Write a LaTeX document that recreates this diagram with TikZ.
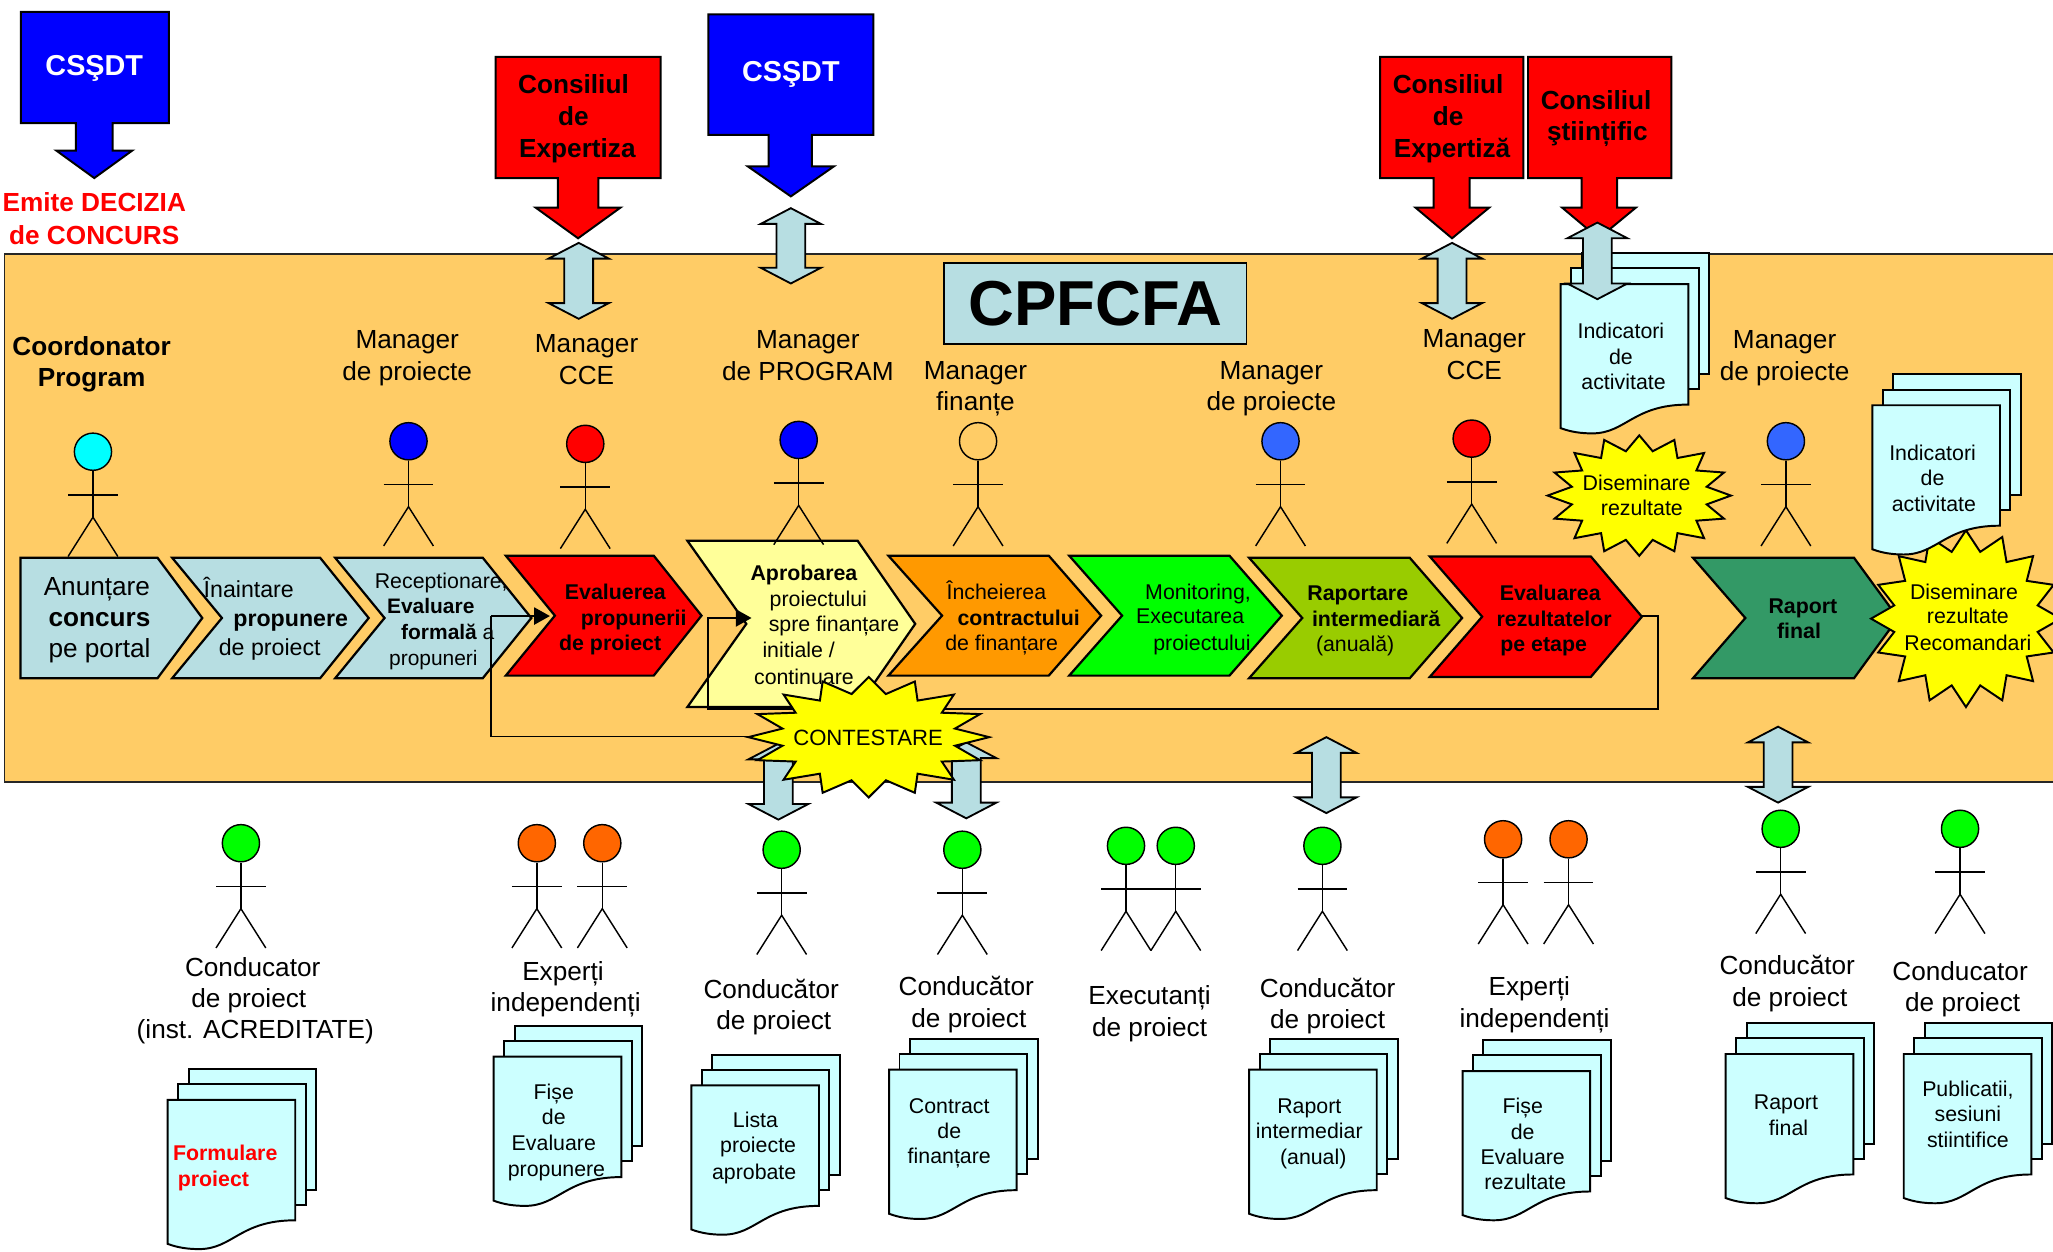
\documentclass[tikz,border=0pt]{standalone}
\usepackage{fontspec}
\setmainfont{Liberation Sans}
\usetikzlibrary{arrows.meta}
\definecolor{bgo}{HTML}{FFCC66}
\definecolor{pale}{HTML}{B7DEE2}
\definecolor{docc}{HTML}{CCFFFF}
\definecolor{lyel}{HTML}{FFFF99}
\definecolor{oran}{HTML}{FF9900}
\definecolor{oliv}{HTML}{99CC00}
\definecolor{dgreen}{HTML}{339966}
\definecolor{mblue}{HTML}{3366FF}
\definecolor{hdor}{HTML}{FF6600}
\definecolor{pcyan}{HTML}{00FFFF}
\definecolor{pyel}{HTML}{FFFF00}
\definecolor{pred}{HTML}{FF0000}
\definecolor{pgreen}{HTML}{00FF00}
\definecolor{pblue}{HTML}{0000FF}
\newcounter{tc}
\tikzset{
  lbl/.style={inner sep=0pt,text height=1.3em,text depth=.2em,align=center},
  fs/.style={font=\fontsize{#1}{#1}\selectfont},
  outl/.style={draw=black,line width=1.5pt,line join=miter},
  chevl/.style={draw=black,line width=1.7pt,line join=miter},
  limb/.style={draw=black,line width=1.1pt},
  headn/.style={circle,draw=black,line width=1.1pt,minimum size=28.4pt,inner sep=0pt},
  feed/.style={draw=black,line width=1.6pt},
}
\newcommand{\T}[4][]{\stepcounter{tc}\node[lbl,fs=20,#1] (t\arabic{tc}) at (#2,#3) {#4};}
\newcommand{\person}[4]{%
  \node[headn,fill=#4] (#1) at (#2,#3) {};
  \draw[limb] (#1.south) -- ({#2},{#3+50});
  \draw[limb] ({#2-19},{#3+33}) -- ({#2+19},{#3+33});
  \draw[limb] ({#2-19},{#3+80}) -- ({#2},{#3+50}) -- ({#2+19},{#3+80});
}
% fill, x0, notch, shoulder, tip, ytop, ybot
\newcommand{\chev}[7]{%
  \draw[chevl,fill=#1] (#2,#6) -- (#4,#6) -- (#5,{(#6+#7)/2}) -- (#4,#7) -- (#2,#7) -- (#3,{(#6+#7)/2}) -- cycle;
}
% cx, top, bottom
\newcommand{\dbl}[3]{%
  \draw[draw=black,line width=1.4pt,fill=pale] (#1,#2) -- ({#1+23},{#2+12}) -- ({#1+11},{#2+12}) -- ({#1+11},{#3-12}) -- ({#1+23},{#3-12}) -- (#1,#3) -- ({#1-23},{#3-12}) -- ({#1-11},{#3-12}) -- ({#1-11},{#2+12}) -- ({#1-23},{#2+12}) -- cycle;
}
% left, top
\newcommand{\docs}[2]{%
  \draw[outl,fill=docc] ({#1+16},{#2-23.5}) rectangle ({#1+113.5},{#2+68.5});
  \draw[outl,fill=docc] ({#1+8},{#2-12}) rectangle ({#1+105.5},{#2+80});
  \draw[outl,fill=docc] (#1,#2) -- ({#1+97.5},#2) -- ({#1+97.5},{#2+92})
     .. controls ({#1+55},{#2+92}) and ({#1+50},{#2+114}) .. ({#1+24},{#2+114})
     .. controls ({#1+16},{#2+114}) and ({#1+8},{#2+113}) .. (#1,{#2+110}) -- cycle;
}
% cx cy rx ry ratio
\newcommand{\burst}[5]{%
  \draw[draw=black,line width=1.5pt,fill=pyel,line join=miter] plot[variable=\t,samples at={0,...,31}]
    ({#1+#3*(mod(\t,2)==0 ? 1 : #5)*cos(\t*11.25)},{#2+#4*(mod(\t,2)==0 ? 1 : #5)*sin(\t*11.25)}) -- cycle;
}
\begin{document}
\begin{tikzpicture}[x=1pt,y=-1pt]
\useasboundingbox (0,0) rectangle (1568,955.5);
\fill[white] (0,0) rectangle (1568,955.5);
% callouts: box and arrow
\draw[outl,fill=pblue] (16,9) -- (129,9) -- (129,94) -- (86,94) -- (86,115) -- (101,115) -- (72,136) -- (43,115) -- (58,115) -- (58,94) -- (16,94) -- cycle;
\draw[outl,fill=pblue] (541,11) -- (667,11) -- (667,103) -- (620,103) -- (620,127) -- (637,127) -- (604,150) -- (571,127) -- (587,127) -- (587,103) -- (541,103) -- cycle;
\draw[outl,fill=pred] (378.5,43.5) -- (504.5,43.5) -- (504.5,136) -- (457,136) -- (457,158.5) -- (474,158.5) -- (441.5,182) -- (409,158.5) -- (426,158.5) -- (426,136) -- (378.5,136) -- cycle;
\draw[outl,fill=pred] (1054,43.5) -- (1163.5,43.5) -- (1163.5,136) -- (1122.5,136) -- (1122.5,158.5) -- (1137.5,158.5) -- (1109,182) -- (1081,158.5) -- (1095,158.5) -- (1095,136) -- (1054,136) -- cycle;
\draw[outl,fill=pred] (1167,43.5) -- (1276.5,43.5) -- (1276.5,136) -- (1235,136) -- (1235,158.5) -- (1249.5,158.5) -- (1221,182) -- (1193,158.5) -- (1208,158.5) -- (1208,136) -- (1167,136) -- cycle;
% main panel
\draw[draw=black!85,line width=1.4pt,fill=bgo] (3.5,194) rectangle (1580,597.5);
\dbl{442}{185.5}{243.5}
\dbl{604}{159}{216.5}
\dbl{1109}{185.5}{243.5}
\dbl{1013}{563}{621}
\dbl{1358}{555}{613}
\dbl{594.5}{568}{626}
\dbl{738}{567}{625}
% CPFCFA
\node[draw=black,line width=1.4pt,fill=pale,minimum width=231pt,minimum height=62pt,inner sep=0pt,font=\fontsize{48.5}{49}\selectfont\bfseries] (cpf) at (836.5,232) {CPFCFA};
% documents inside panel
\docs{1192}{217}
\dbl{1220}{170}{228.5}
% chevrons
\chev{pale}{15.6}{15.6}{120.3}{154.5}{426}{518}
\chev{pale}{131.5}{169.5}{244.5}{281.6}{426}{518}
\chev{pale}{256}{293.7}{368.7}{405.8}{426}{518}
\chev{pred}{386.3}{423.8}{499.3}{535.8}{424.4}{516}
\chev{lyel}{525}{570}{655}{699}{413}{540}
\chev{oran}{678.5}{719.5}{801}{841}{424.4}{516}
\chev{pgreen}{816.6}{857}{939}{979}{424.4}{516}
\chev{oliv}{954}{994.6}{1076.7}{1116.7}{426}{518}
\chev{pred}{1092}{1132}{1215}{1254}{425}{517}
\chev{dgreen}{1293}{1333}{1416}{1449.6}{426}{518}
% named ends of connectors
\coordinate (evtip) at (1254,470.5);
\coordinate (aprin) at (574,472);
\coordinate (evin) at (420,470.5);
\coordinate (contl) at (576,562.5);
% text in chevrons
\T{74}{449}{Anunțare}
\T{76}{473}{\bfseries concurs}
\T{76}{497}{pe portal}
\T[fs=17.7]{190}{451}{Înaintare}
\T[fs=17.7]{222}{473}{\bfseries propunere}
\T[fs=17.7]{206}{495}{de proiect}
\T[fs=16.3]{337}{444}{Receptionare,}
\T[fs=16]{329}{463}{\bfseries Evaluare}
\T[fs=16]{342}{483}{{\bfseries formală} a}
\T[fs=16]{331}{503}{propuneri}
\T[fs=16.3]{470}{452}{\bfseries Evaluerea}
\T[fs=16.3]{484}{472}{\bfseries propunerii}
\T[fs=16.3]{466}{491}{\bfseries de proiect}
\T[fs=16.3]{614}{438}{\bfseries Aprobarea}
\T[fs=16.3]{625}{458}{proiectului}
\T[fs=16.3]{637}{477}{spre finanțare}
\T[fs=16.3]{610}{497}{initiale /}
\T[fs=16.3]{614}{517}{continuare}
\T[fs=16.3]{761}{452}{Încheierea}
\T[fs=16.3]{778}{472}{\bfseries contractului}
\T[fs=16.3]{765}{491}{de finanțare}
\T[fs=16.3]{915}{452}{Monitoring,}
\T[fs=16.3]{909}{471}{Executarea}
\T[fs=16.3]{918}{491}{proiectului}
\T[fs=16.3]{1037}{453}{\bfseries Raportare}
\T[fs=16.3]{1051}{473}{\bfseries intermediară}
\T[fs=16.3]{1035}{492}{(anuală)}
\T[fs=16.3]{1184}{453}{\bfseries Evaluarea}
\T[fs=16.3]{1187}{473}{\bfseries rezultatelor}
\T[fs=16.3]{1179}{492}{\bfseries pe etape}
\T[fs=16.3]{1377}{463}{\bfseries Raport}
\T[fs=16.3]{1374}{482}{\bfseries final}
% feedback connectors
\draw[feed,-{Triangle[length=12pt,width=13pt]}] (evtip) -- (1266.5,470.5) -- (1266.5,541.5) -- (541,541.5) -- (541,472) -- (aprin);
\draw[draw=black,line width=1.2pt] (contl) -- (375,562.5) -- (375,470.5);
\draw[feed,-{Triangle[length=12pt,width=13pt]}] (375,470.5) -- (evin);
% persons top
\person{p1}{71}{345}{pcyan}
\person{p2}{312}{337}{pblue}
\person{p3}{447}{339}{pred}
\person{p4}{610}{336}{pblue}
\person{p5}{747}{337}{bgo}
\person{p6}{978}{337}{mblue}
\person{p7}{1124}{335}{pred}
\person{p8}{1364}{337}{mblue}
% persons bottom
\person{q1}{184}{644}{pgreen}
\person{q2}{410}{644}{hdor}
\person{q3}{460}{644}{hdor}
\person{q4}{597}{649}{pgreen}
\person{q5}{735}{649}{pgreen}
\person{q6}{860}{646}{pgreen}
\person{q7}{898}{646}{pgreen}
\person{q8}{1010}{646}{pgreen}
\person{q9}{1148}{641}{hdor}
\person{q10}{1198}{641}{hdor}
\person{q11}{1360}{633}{pgreen}
\person{q12}{1497}{633}{pgreen}
% bursts
\burst{663.5}{563}{92}{46}{0.73}
\burst{1252}{378.5}{70}{46}{0.75}
\burst{1501.5}{472.5}{72.5}{67.5}{0.77}
\docs{1430}{309.5}
\T[fs=16.9]{663}{564}{CONTESTARE}
\T[fs=16.3]{1250}{369}{Diseminare}
\T[fs=16.3]{1254}{388}{rezultate}
\T[fs=16.3]{1500}{452}{Diseminare}
\T[fs=16.3]{1503}{471}{rezultate}
\T[fs=16.3]{1503}{491}{Recomandari}
% documents below
\docs{128}{840}
\docs{377}{807}
\docs{528}{829}
\docs{679}{817}
\docs{954}{817}
\docs{1117}{818}
\docs{1318}{805}
\docs{1454}{805}
% box text
\T[fs=22,text=white]{72}{52}{\bfseries CSŞDT}
\T[fs=22,text=white]{604}{57}{\bfseries CSŞDT}
\T[text=pred]{72}{156}{\bfseries Emite DECIZIA}
\T[text=pred]{72}{181}{\bfseries de CONCURS}
\T{438}{66}{\bfseries Consiliul}
\T{438}{90}{\bfseries de}
\T{441}{115}{\bfseries Expertiza}
\T{1106}{66}{\bfseries Consiliul}
\T{1106}{90}{\bfseries de}
\T{1109}{115}{\bfseries Expertiză}
\T{1219}{78}{\bfseries Consiliul}
\T{1220}{102}{\bfseries ştiințific}
% role labels in panel
\T{70}{266}{\bfseries Coordonator}
\T{70}{290}{\bfseries Program}
\T{311}{261}{Manager}
\T{311}{285}{de proiecte}
\T{448}{264}{Manager}
\T{448}{288}{CCE}
\T{617}{261}{Manager}
\T{617}{285}{de PROGRAM}
\T{745}{284}{Manager}
\T{745}{308}{finanțe}
\T{971}{284}{Manager}
\T{971}{308}{de proiecte}
\T{1126}{260}{Manager}
\T{1126}{284}{CCE}
\T{1363}{261}{Manager}
\T{1363}{285}{de proiecte}
% role labels below
\T{193}{740}{Conducator}
\T{190}{764}{de proiect}
\T{195}{788}{(inst. ACREDITATE)}
\T{430}{743}{Experți}
\T{432}{767}{independenți}
\T{589}{757}{Conducător}
\T{591}{781}{de proiect}
\T{738}{755}{Conducător}
\T{740}{779}{de proiect}
\T{878}{762}{Executanți}
\T{878}{786}{de proiect}
\T{1014}{756}{Conducător}
\T{1014}{780}{de proiect}
\T{1168}{755}{Experți}
\T{1172}{779}{independenți}
\T{1365}{739}{Conducător}
\T{1367}{763}{de proiect}
\T{1497}{743}{Conducator}
\T{1499}{767}{de proiect}
% document text
\T[fs=16.3]{1238}{253}{Indicatori}
\T[fs=16.3]{1238}{273}{de}
\T[fs=16.3]{1240}{292}{activitate}
\T[fs=16.3]{1476}{346}{Indicatori}
\T[fs=16.3]{1476}{365}{de}
\T[fs=16.3]{1477}{385}{activitate}
\T[fs=16.3,text=pred]{172}{881}{\bfseries Formulare}
\T[fs=16.3,text=pred]{163}{901}{\bfseries proiect}
\T[fs=16.3]{423}{834}{Fișe}
\T[fs=16.3]{423}{853}{de}
\T[fs=16.3]{423}{873}{Evaluare}
\T[fs=16.3]{425}{893}{propunere}
\T[fs=16.3]{577}{856}{Lista}
\T[fs=16.3]{579}{875}{proiecte}
\T[fs=16.3]{576}{895}{aprobate}
\T[fs=16.3]{725}{845}{Contract}
\T[fs=16.3]{725}{864}{de}
\T[fs=16.3]{725}{883}{finanțare}
\T[fs=16.3]{1000}{845}{Raport}
\T[fs=16.3]{1000}{864}{intermediar}
\T[fs=16.3]{1003}{884}{(anual)}
\T[fs=16.3]{1163}{845}{Fișe}
\T[fs=16.3]{1163}{865}{de}
\T[fs=16.3]{1163}{884}{Evaluare}
\T[fs=16.3]{1165}{903}{rezultate}
\T[fs=16.3]{1364}{842}{Raport}
\T[fs=16.3]{1366}{862}{final}
\T[fs=16.3]{1503}{832}{Publicatii,}
\T[fs=16.3]{1503}{851}{sesiuni}
\T[fs=16.3]{1503}{871}{stiintifice}
\end{tikzpicture}
\end{document}
